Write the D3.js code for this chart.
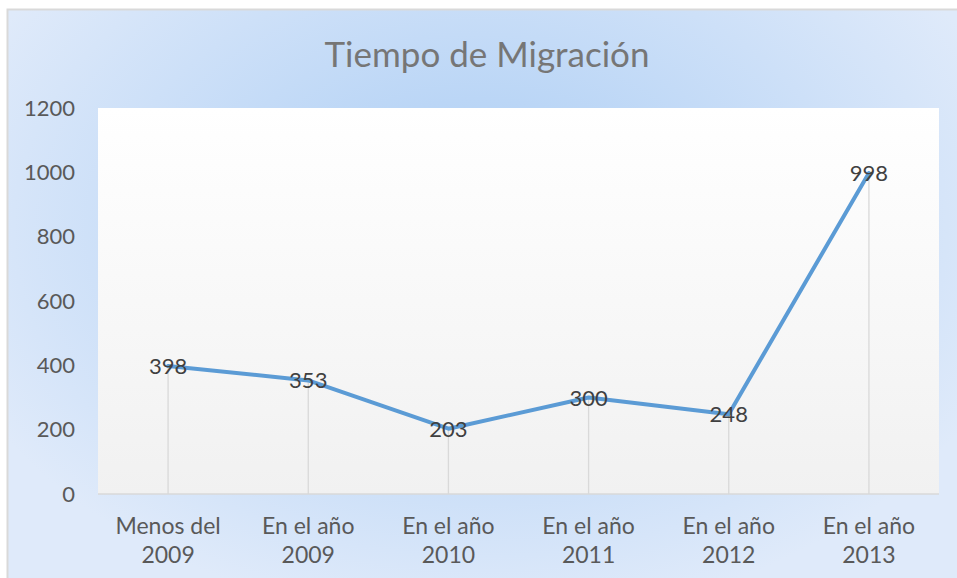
<!DOCTYPE html>
<html>
<head>
<meta charset="utf-8">
<script src="https://cdn.jsdelivr.net/npm/d3@7"></script>
<style>
  body { margin: 0; background: #fff; }
  svg { display: block; font-family: Lato, "Open Sans", sans-serif; }
</style>
</head>
<body>
<svg width="957" height="578"></svg>
<script>
var categories = [["Menos del", "2009"], ["En el año", "2009"], ["En el año", "2010"],
                  ["En el año", "2011"], ["En el año", "2012"], ["En el año", "2013"]];
var values = [398, 353, 203, 300, 248, 998];
var yTicks = [0, 200, 400, 600, 800, 1000, 1200];
var title = "Tiempo de Migración";

var svg = d3.select("svg");
var margin = { top: 108, right: 18, bottom: 84, left: 98 },
    width = 957 - margin.left - margin.right,
    height = 578 - margin.top - margin.bottom;

var defs = svg.append("defs");
var rg = defs.append("radialGradient").attr("id", "bg")
    .attr("gradientUnits", "userSpaceOnUse")
    .attr("cx", 480).attr("cy", 230).attr("r", 560)
    .attr("gradientTransform", "translate(480,230) scale(1,0.7) translate(-480,-230)");
rg.append("stop").attr("offset", "0%").attr("stop-color", "#a9ccf4");
rg.append("stop").attr("offset", "100%").attr("stop-color", "#dfeafa");
var lg = defs.append("linearGradient").attr("id", "plotbg")
    .attr("x1", 0).attr("y1", 0).attr("x2", 0).attr("y2", 1);
lg.append("stop").attr("offset", "0%").attr("stop-color", "#ffffff");
lg.append("stop").attr("offset", "100%").attr("stop-color", "#f1f1f1");

// chart frame
svg.append("rect").attr("x", 7.5).attr("y", 9.5).attr("width", 957).attr("height", 578)
    .attr("fill", "url(#bg)").attr("stroke", "#d9d9d9").attr("stroke-width", 2);

svg.append("text").attr("x", 487).attr("y", 67)
    .attr("text-anchor", "middle").attr("font-size", 35)
    .attr("fill", "#767676").text(title);

var g = svg.append("g").attr("transform", "translate(" + margin.left + "," + margin.top + ")");

var x = d3.scaleBand().domain(d3.range(categories.length)).range([0, width]);
var y = d3.scaleLinear().domain([0, 1200]).range([height, 0]);

g.append("rect").attr("width", width).attr("height", height).attr("fill", "url(#plotbg)");

// y axis
var yAxis = g.append("g").call(d3.axisLeft(y).tickValues(yTicks).tickFormat(d3.format("d"))
    .tickSize(0).tickPadding(23));
yAxis.select(".domain").remove();
yAxis.selectAll("text").attr("font-size", 22).attr("fill", "#595959")
    .attr("font-family", "Lato, 'Open Sans', sans-serif");

// drop lines
g.selectAll("line.drop").data(values).enter().append("line")
    .attr("class", "drop")
    .attr("x1", (d, i) => x(i) + x.bandwidth() / 2)
    .attr("x2", (d, i) => x(i) + x.bandwidth() / 2)
    .attr("y1", d => y(d)).attr("y2", height)
    .attr("stroke", "#d9d9d9").attr("stroke-width", 1.3);

// baseline
g.append("line").attr("x1", 0).attr("x2", width).attr("y1", height).attr("y2", height)
    .attr("stroke", "#d9d9d9").attr("stroke-width", 1.3);

// x labels
var xAxis = g.append("g").attr("transform", "translate(0," + height + ")");
xAxis.selectAll("text").data(categories).enter().append("text")
    .attr("x", (d, i) => x(i) + x.bandwidth() / 2)
    .attr("y", 40)
    .attr("text-anchor", "middle").attr("font-size", 23).attr("fill", "#595959")
    .selectAll("tspan").data(d => d).enter().append("tspan")
    .attr("x", function () { return this.parentNode.getAttribute("x"); })
    .attr("dy", (d, i) => i === 0 ? 0 : 29)
    .text(d => d);

// line
var line = d3.line()
    .x((d, i) => x(i) + x.bandwidth() / 2)
    .y(d => y(d));
g.append("path").datum(values).attr("d", line)
    .attr("fill", "none").attr("stroke", "#5b9bd5").attr("stroke-width", 4)
    .attr("stroke-linejoin", "round").attr("stroke-linecap", "round");

// data labels
g.selectAll("text.lbl").data(values).enter().append("text")
    .attr("class", "lbl")
    .attr("x", (d, i) => x(i) + x.bandwidth() / 2)
    .attr("y", d => y(d) + 8)
    .attr("text-anchor", "middle").attr("font-size", 22).attr("fill", "#404040")
    .text(d => d);
</script>
</body>
</html>
